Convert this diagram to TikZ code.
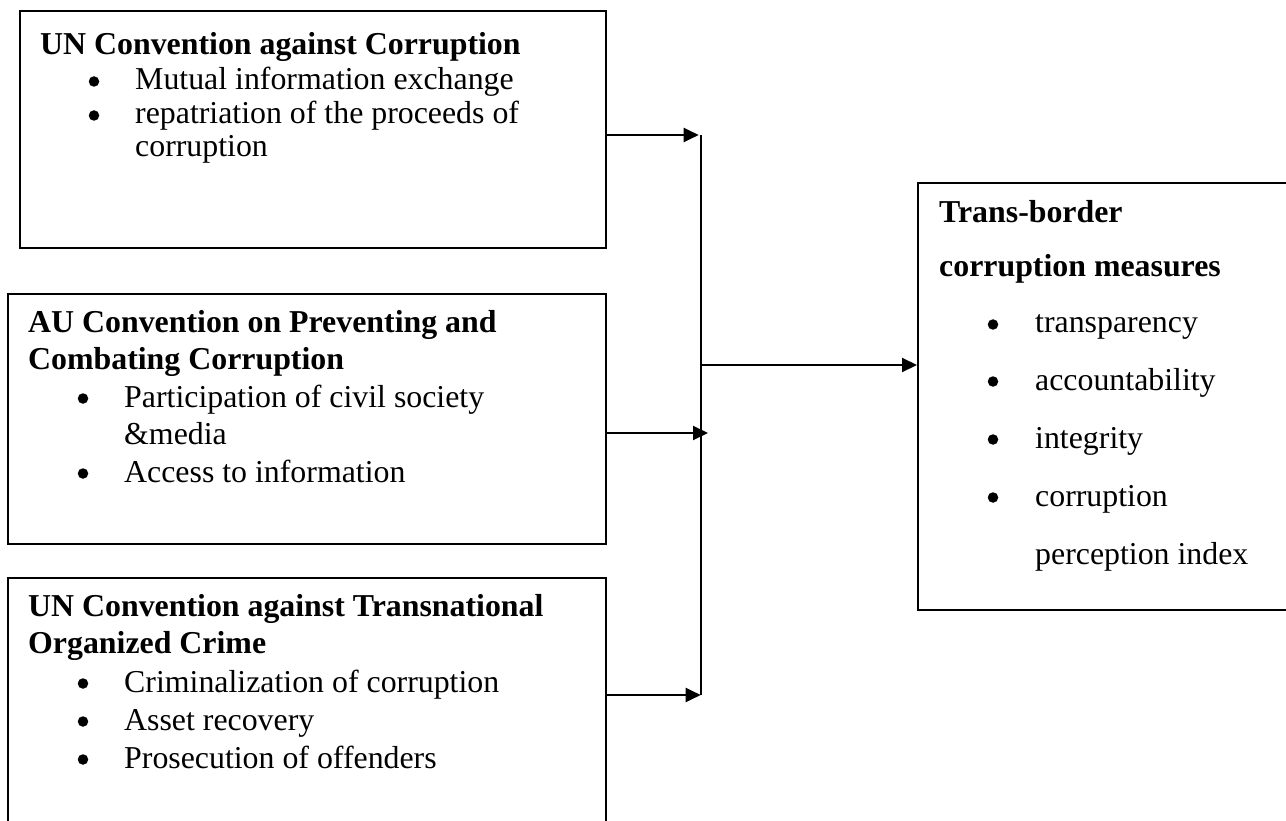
\documentclass[tikz,border=0pt]{standalone}
\usepackage{fontspec}
\setmainfont{Liberation Serif}
\usetikzlibrary{arrows.meta}
\begin{document}
\begin{tikzpicture}[x=1pt,y=-1pt,
  box/.style={draw,line width=2pt,anchor=north west,inner sep=0pt},
  arr/.style={line width=2pt,-{Triangle[length=15pt,width=14pt]}},
  bus/.style={line width=2pt},
  txt/.style={anchor=base west,inner sep=0pt,font=\fontsize{31.85}{36}\selectfont},
  ttl/.style={anchor=base west,inner sep=0pt,font=\fontsize{31.85}{36}\selectfont\bfseries},
  bul/.style={circle,fill,draw=none,inner sep=0pt,minimum size=10.5pt,yshift=8.5pt}]
\clip (0,0) rectangle (1286,821);
\fill[white] (0,0) rectangle (1286,821);
% boxes
\node[box,minimum width=586pt,minimum height=237pt] (b1) at (19,10) {};
\node[box,minimum width=598pt,minimum height=250pt] (b2) at (7,293) {};
\node[box,minimum width=598pt,minimum height=330pt] (b3) at (7,577) {};
\node[box,minimum width=400pt,minimum height=427pt] (b4) at (917,182) {};
% box 1 text
\node[ttl] (t11) at (40,55) {UN Convention against Corruption};
\node[bul] (p11) at (94,90) {};
\node[txt] (l11) at (135,90) {Mutual information exchange};
\node[bul] (p12) at (94,124) {};
\node[txt] (l12) at (135,124) {repatriation of the proceeds of};
\node[txt] (l13) at (135,157) {corruption};
% box 2 text
\node[ttl] (t21) at (28,332) {AU Convention on Preventing and};
\node[ttl] (t22) at (28,369) {Combating Corruption};
\node[bul] (p21) at (83,407) {};
\node[txt] (l21) at (124,407) {Participation of civil society};
\node[txt] (l22) at (124,444) {\&media};
\node[bul] (p22) at (83,482) {};
\node[txt] (l23) at (124,482) {Access to information};
% box 3 text
\node[ttl] (t31) at (28,616) {UN Convention against Transnational};
\node[ttl] (t32) at (28,653) {Organized Crime};
\node[bul] (p31) at (83,692) {};
\node[txt] (l31) at (124,692) {Criminalization of corruption};
\node[bul] (p32) at (83,730) {};
\node[txt] (l32) at (124,730) {Asset recovery};
\node[bul] (p33) at (83,768) {};
\node[txt] (l33) at (124,768) {Prosecution of offenders};
% right box text
\node[ttl] (t41) at (939,223) {Trans-border};
\node[ttl] (t42) at (939,277) {corruption measures};
\node[bul] (p41) at (993,333) {};
\node[txt] (l41) at (1035,333) {transparency};
\node[bul] (p42) at (993,390) {};
\node[txt] (l42) at (1035,390) {accountability};
\node[bul] (p43) at (993,448) {};
\node[txt] (l43) at (1035,448) {integrity};
\node[bul] (p44) at (993,506) {};
\node[txt] (l44) at (1035,506) {corruption};
\node[txt] (l45) at (1035,564) {perception index};
% connectors
\coordinate (bt) at (700.7,135);
\coordinate (bb) at (700.7,695);
\coordinate (bm) at (700.7,365);
\coordinate (m2) at (708,433);
\draw[bus] (bt) -- (bb);
\draw[arr] (b1.east |- bt) -- ([xshift=-2pt]bt);
\draw[arr] (b2.east |- m2) -- (m2);
\draw[arr] (b3.east |- bb) -- (bb);
\draw[arr] (bm) -- (b4.west |- bm);
\end{tikzpicture}
\end{document}
